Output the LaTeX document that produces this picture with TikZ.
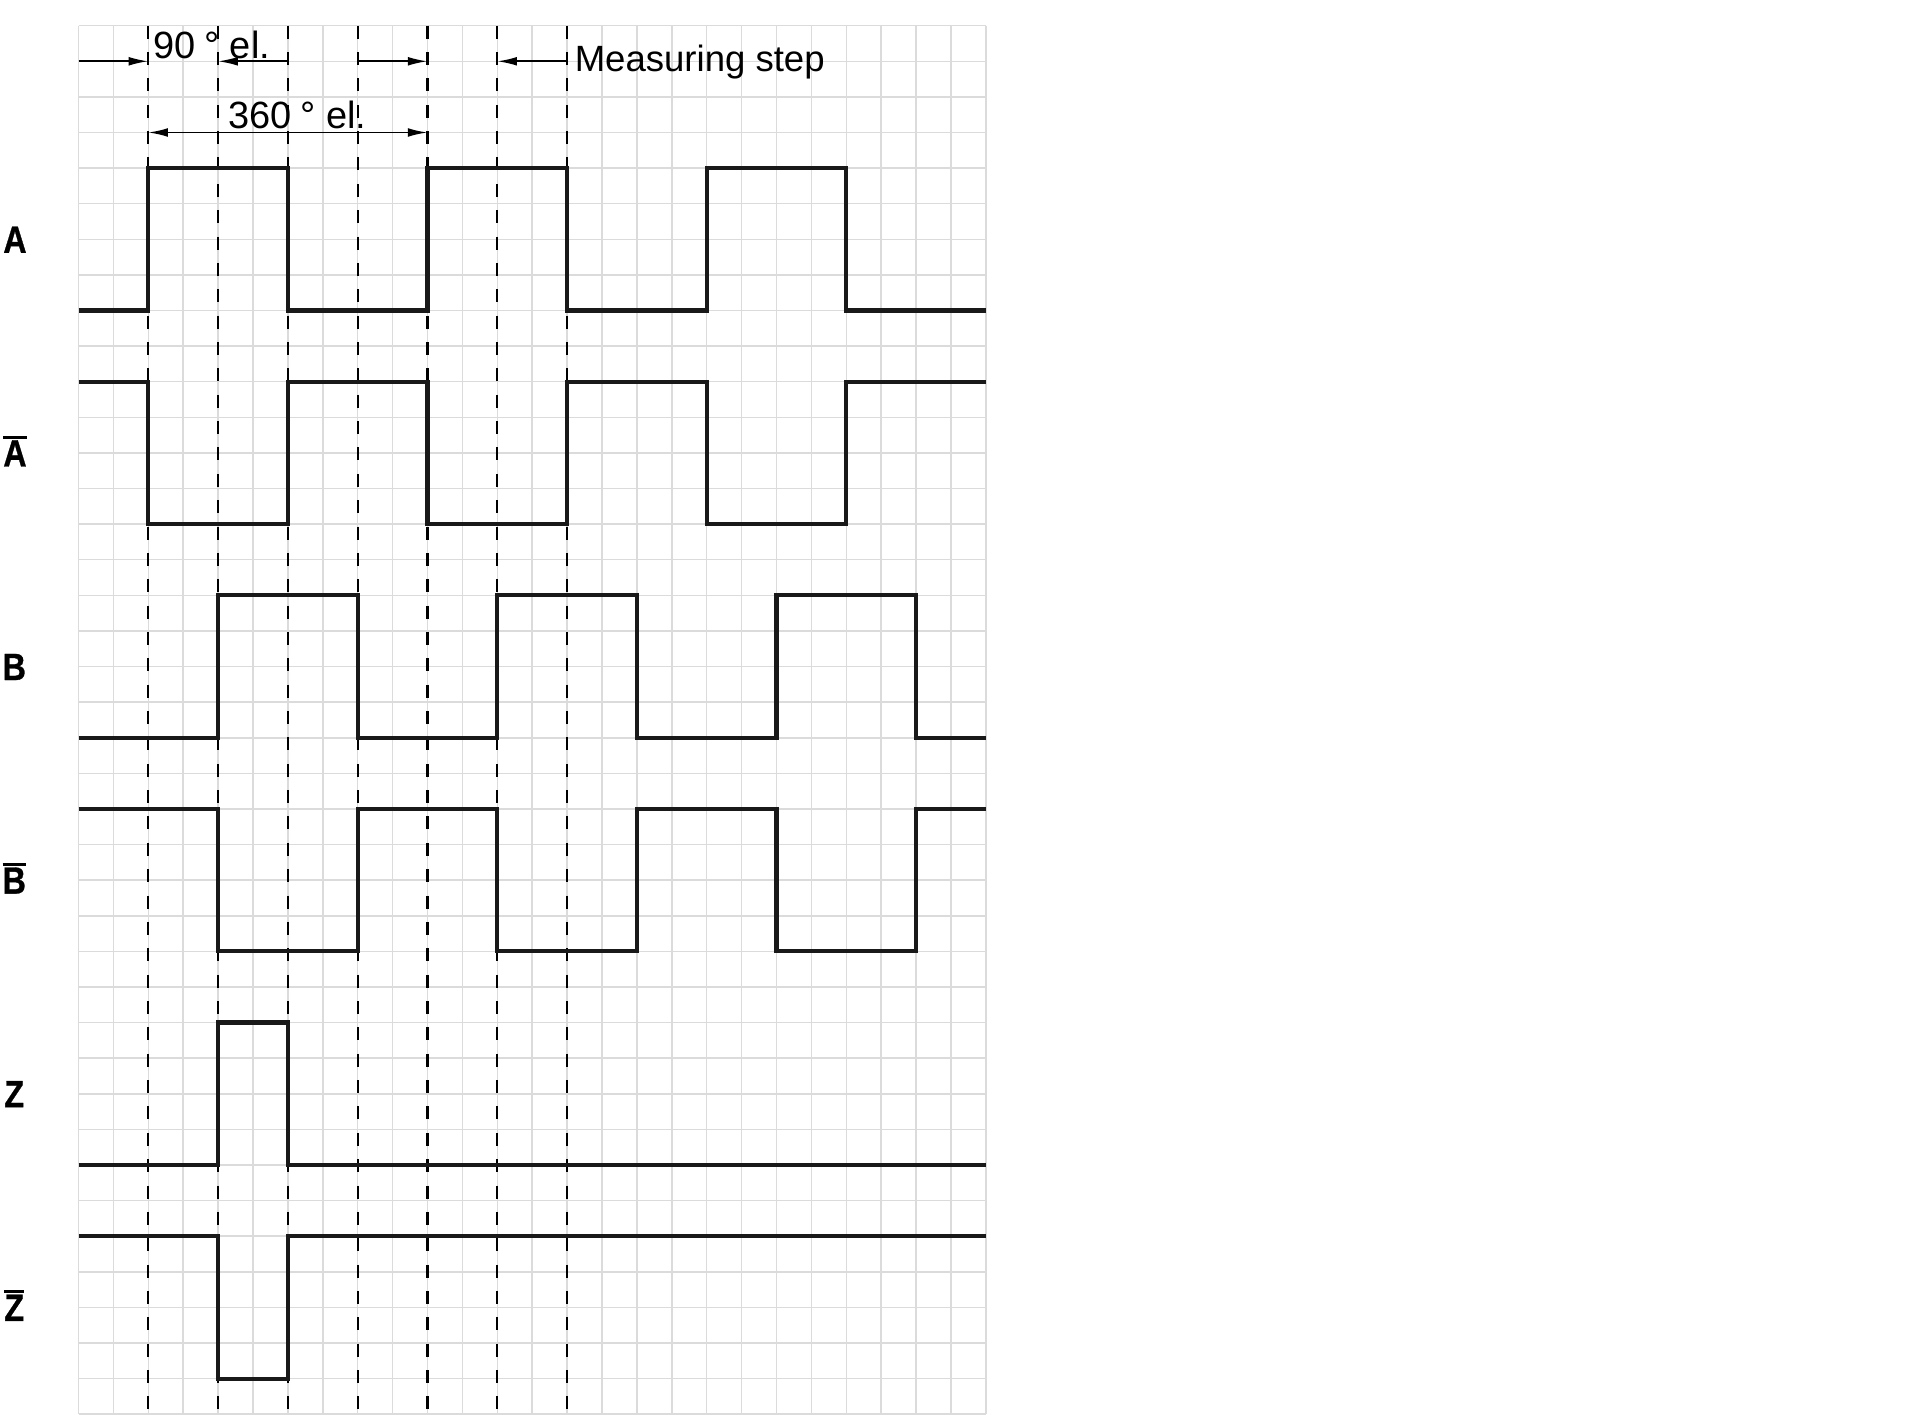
\documentclass[tikz,border=0pt]{standalone}
\usepackage{fontspec}
\usepackage{graphicx}
\setmainfont{Liberation Sans}
\newfontfamily\labfont{Liberation Sans}[BoldFeatures={FakeBold=0.9}]
\usetikzlibrary{arrows.meta}
\newcommand{\ovbar}[1]{\setbox0=\hbox{#1}\rlap{\rule[\dimexpr\ht0+0.5pt\relax]{\wd0}{0.8pt}}\box0}
\tikzset{
  gridline/.style={draw=gray!28, line width=0.45pt},
  guide/.style={draw=black, line width=0.62pt, dash pattern=on 3.7pt off 3.8pt},
  signal/.style={draw=black!90, line width=1.15pt, line join=miter},
  dimarrow/.style={draw=black, line width=0.5pt, -{Latex[length=5.6pt,width=2.5pt]}},
  dimboth/.style={draw=black, line width=0.5pt, {Latex[length=5.6pt,width=2.5pt]}-{Latex[length=5.6pt,width=2.5pt]}},
  dimtext/.style={inner sep=0pt, anchor=base west, font=\fontsize{10.8pt}{12pt}\selectfont},
  meastext/.style={inner sep=0pt, anchor=base west, font=\fontsize{10.4pt}{12pt}\selectfont},
  siglabel/.style={inner sep=0pt, anchor=base, font=\fontsize{10.8pt}{12pt}\selectfont\labfont\bfseries},
}
\begin{document}
\begin{tikzpicture}[x=0.349cm,y=-0.356cm]
\useasboundingbox (-2.2493,-0.7219) rectangle (52.765,39.025);
\fill[white] (-2.2493,-0.7219) rectangle (52.765,39.025);
% grid
\foreach \i in {0,...,26} \draw[gridline] (\i,0) -- (\i,39);
\foreach \j in {0,...,39} \draw[gridline] (0,\j) -- (26,\j);
% dashed guide lines
\foreach \k in {2,4,...,14} \draw[guide] (\k,0) -- (\k,39);
% signals
\draw[signal] (0,8) -- (2,8) -- (2,4) -- (6,4) -- (6,8) -- (10,8) -- (10,4) -- (14,4) -- (14,8) -- (18,8) -- (18,4) -- (22,4) -- (22,8) -- (26,8);
\draw[signal] (0,10) -- (2,10) -- (2,14) -- (6,14) -- (6,10) -- (10,10) -- (10,14) -- (14,14) -- (14,10) -- (18,10) -- (18,14) -- (22,14) -- (22,10) -- (26,10);
\draw[signal] (0,20) -- (4,20) -- (4,16) -- (8,16) -- (8,20) -- (12,20) -- (12,16) -- (16,16) -- (16,20) -- (20,20) -- (20,16) -- (24,16) -- (24,20) -- (26,20);
\draw[signal] (0,22) -- (4,22) -- (4,26) -- (8,26) -- (8,22) -- (12,22) -- (12,26) -- (16,26) -- (16,22) -- (20,22) -- (20,26) -- (24,26) -- (24,22) -- (26,22);
\draw[signal] (0,32) -- (4,32) -- (4,28) -- (6,28) -- (6,32) -- (26,32);
\draw[signal] (0,34) -- (4,34) -- (4,38) -- (6,38) -- (6,34) -- (26,34);
% dimension coordinates
\coordinate (r0) at (0,1);
\coordinate (r2) at (2,1);
\coordinate (r4) at (4,1);
\coordinate (r6) at (6,1);
\coordinate (r8) at (8,1);
\coordinate (r10) at (10,1);
\coordinate (r12) at (12,1);
\coordinate (r14) at (14,1);
\coordinate (s2) at (2,3);
\coordinate (s10) at (10,3);
\draw[dimarrow] (r0) -- (r2);
\draw[dimarrow] (r6) -- (r4);
\draw[dimarrow] (r8) -- (r10);
\draw[dimarrow] (r14) -- (r12);
\draw[dimboth] (s2) -- (s10);
% texts
\node[dimtext] (t90) at (2.12,0.92) {90\kern2.5pt° el.};
\node[dimtext] (t360) at (4.28,2.88) {360\kern2.5pt° el.};
\node[meastext] (tmeas) at (14.2,1.29) {Measuring step};
% labels
\node[siglabel] (labA) at (-1.82,6.38) {\scalebox{0.85}[1]{A}};
\node[siglabel] (labAbar) at (-1.82,12.38) {\scalebox{0.85}[1]{\ovbar{A}}};
\node[siglabel] (labB) at (-1.84,18.38) {\scalebox{0.85}[1]{B}};
\node[siglabel] (labBbar) at (-1.84,24.38) {\scalebox{0.85}[1]{\ovbar{B}}};
\node[siglabel] (labZ) at (-1.84,30.38) {\scalebox{0.85}[1]{Z}};
\node[siglabel] (labZbar) at (-1.84,36.38) {\scalebox{0.85}[1]{\ovbar{Z}}};
\end{tikzpicture}
\end{document}
